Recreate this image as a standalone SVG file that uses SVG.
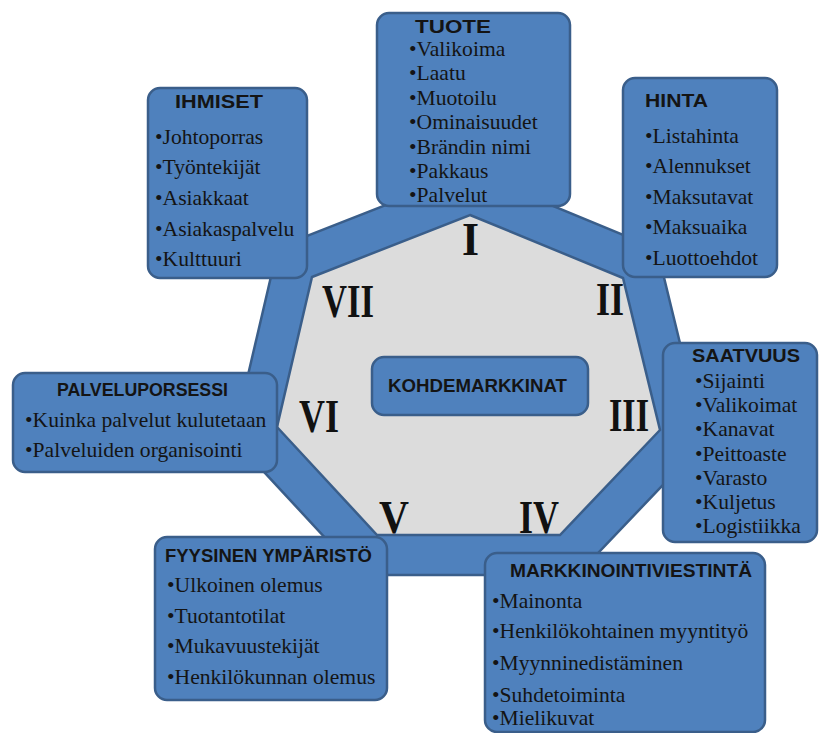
<svg xmlns="http://www.w3.org/2000/svg" width="820" height="733" viewBox="0 0 820 733">
<style>
.box{fill:#4F81BD;stroke:#3A5E8A;stroke-width:2.5}
.ring{fill:#4F81BD;stroke:#3A5E8A;stroke-width:2.5;stroke-linejoin:miter}
.core{fill:#DCDCDC;stroke:#3A5E8A;stroke-width:2.5;stroke-linejoin:miter}
.h{font-family:"Liberation Sans",Arial,sans-serif;font-weight:bold;font-size:17.5px;fill:#141414}
.t{font-family:"Liberation Serif","Times New Roman",serif;font-size:20px;fill:#141414}
.n{font-family:"Liberation Serif","Times New Roman",serif;font-weight:bold;font-size:46px;fill:#111}
</style>
<rect width="820" height="733" fill="#ffffff"/>

<!-- central heptagon: blue ring with grey core and roman numerals -->
<g id="heptagon">
  <polygon class="ring" points="470.4,171.9 657,248.8 704,441.8 577.1,575 359.5,575 233.2,438.6 277.8,247.4"/>
  <polygon class="core" points="470,215 623,278 660,430 560,535 377,535 277,427 312,277"/>
  <text class="n" x="462" y="255" textLength="17" lengthAdjust="spacingAndGlyphs">I</text>
  <text class="n" x="596" y="315" textLength="28" lengthAdjust="spacingAndGlyphs">II</text>
  <text class="n" x="609" y="431" textLength="40" lengthAdjust="spacingAndGlyphs">III</text>
  <text class="n" x="519" y="533" textLength="40" lengthAdjust="spacingAndGlyphs">IV</text>
  <text class="n" x="379" y="533" textLength="30" lengthAdjust="spacingAndGlyphs">V</text>
  <text class="n" x="299" y="432" textLength="40" lengthAdjust="spacingAndGlyphs">VI</text>
  <text class="n" x="322" y="317" textLength="52" lengthAdjust="spacingAndGlyphs">VII</text>
</g>

<g id="connectors"></g>

<g id="kohdemarkkinat">
  <rect class="box" x="372" y="357" width="216" height="58" rx="12"/>
  <text class="h" x="388" y="392" textLength="179" lengthAdjust="spacingAndGlyphs">KOHDEMARKKINAT</text>
</g>

<g id="tuote">
  <rect class="box" x="377" y="13" width="193" height="193" rx="12"/>
  <text class="h" x="415" y="33" font-size="20" textLength="76" lengthAdjust="spacingAndGlyphs">TUOTE</text>
  <g transform="translate(409 0) scale(1.08 1)">
    <text class="t" x="0" y="56">•Valikoima</text>
    <text class="t" x="0" y="80.4">•Laatu</text>
    <text class="t" x="0" y="104.8">•Muotoilu</text>
    <text class="t" x="0" y="129.2">•Ominaisuudet</text>
    <text class="t" x="0" y="153.6">•Brändin nimi</text>
    <text class="t" x="0" y="178">•Pakkaus</text>
    <text class="t" x="0" y="202">•Palvelut</text>
  </g>
</g>

<g id="ihmiset">
  <rect class="box" x="148" y="88" width="159" height="190" rx="12"/>
  <text class="h" x="175" y="108" textLength="88" lengthAdjust="spacingAndGlyphs">IHMISET</text>
  <g transform="translate(155 0) scale(1.08 1)">
    <text class="t" x="0" y="144">•Johtoporras</text>
    <text class="t" x="0" y="174.5">•Työntekijät</text>
    <text class="t" x="0" y="205">•Asiakkaat</text>
    <text class="t" x="0" y="236">•Asiakaspalvelu</text>
    <text class="t" x="0" y="266.5">•Kulttuuri</text>
  </g>
</g>

<g id="hinta">
  <rect class="box" x="623" y="78" width="154" height="199" rx="12"/>
  <text class="h" x="645" y="107" textLength="63" lengthAdjust="spacingAndGlyphs">HINTA</text>
  <g transform="translate(645 0) scale(1.08 1)">
    <text class="t" x="0" y="143">•Listahinta</text>
    <text class="t" x="0" y="173.5">•Alennukset</text>
    <text class="t" x="0" y="204">•Maksutavat</text>
    <text class="t" x="0" y="234.5">•Maksuaika</text>
    <text class="t" x="0" y="265">•Luottoehdot</text>
  </g>
</g>

<g id="saatavuus">
  <rect class="box" x="663" y="343" width="154" height="199" rx="12"/>
  <text class="h" x="692" y="362" textLength="108" lengthAdjust="spacingAndGlyphs">SAATVUUS</text>
  <g transform="translate(695 0) scale(1.08 1)">
    <text class="t" x="0" y="388">•Sijainti</text>
    <text class="t" x="0" y="412.5">•Valikoimat</text>
    <text class="t" x="0" y="436.5">•Kanavat</text>
    <text class="t" x="0" y="461">•Peittoaste</text>
    <text class="t" x="0" y="485">•Varasto</text>
    <text class="t" x="0" y="509">•Kuljetus</text>
    <text class="t" x="0" y="533">•Logistiikka</text>
  </g>
</g>

<g id="palveluprosessi">
  <rect class="box" x="13" y="373" width="264" height="99" rx="12"/>
  <text class="h" x="57" y="396" textLength="171" lengthAdjust="spacingAndGlyphs">PALVELUPORSESSI</text>
  <g transform="translate(25 0) scale(1.08 1)">
    <text class="t" x="0" y="427">•Kuinka palvelut kulutetaan</text>
    <text class="t" x="0" y="457">•Palveluiden organisointi</text>
  </g>
</g>

<g id="fyysinen-ymparisto">
  <rect class="box" x="155" y="537" width="232" height="163" rx="12"/>
  <text class="h" x="165" y="562" textLength="207" lengthAdjust="spacingAndGlyphs">FYYSINEN YMPÄRISTÖ</text>
  <g transform="translate(167 0) scale(1.08 1)">
    <text class="t" x="0" y="592">•Ulkoinen olemus</text>
    <text class="t" x="0" y="623">•Tuotantotilat</text>
    <text class="t" x="0" y="653">•Mukavuustekijät</text>
    <text class="t" x="0" y="684">•Henkilökunnan olemus</text>
  </g>
</g>

<g id="markkinointiviestinta">
  <rect class="box" x="485" y="553" width="280" height="179" rx="12"/>
  <text class="h" x="510" y="577" textLength="242" lengthAdjust="spacingAndGlyphs">MARKKINOINTIVIESTINTÄ</text>
  <g transform="translate(492 0) scale(1.08 1)">
    <text class="t" x="0" y="608">•Mainonta</text>
    <text class="t" x="0" y="638">•Henkilökohtainen myyntityö</text>
    <text class="t" x="0" y="670">•Myynninedistäminen</text>
    <text class="t" x="0" y="702">•Suhdetoiminta</text>
    <text class="t" x="0" y="725">•Mielikuvat</text>
  </g>
</g>
</svg>
